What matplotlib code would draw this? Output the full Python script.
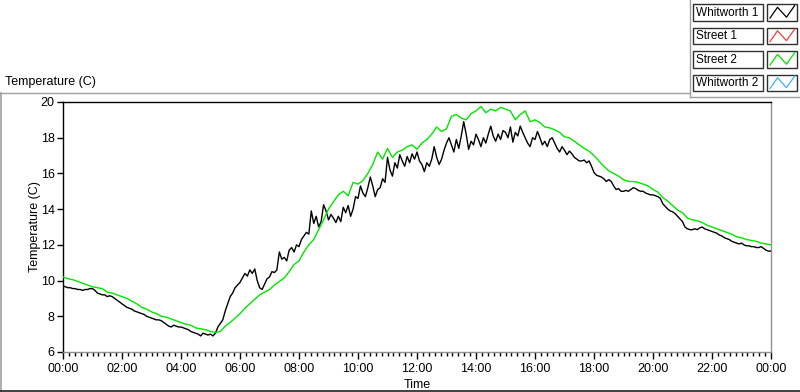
import numpy as np
import matplotlib
matplotlib.use("Agg")
import matplotlib.pyplot as plt
from matplotlib.patches import Rectangle
from matplotlib.ticker import MultipleLocator, FuncFormatter

plt.rcParams['font.family'] = ['Liberation Sans', 'DejaVu Sans']

# Whitworth 1, one reading every 5 minutes (00:00 .. 24:00)
whitworth1 = [
    9.7, 9.65, 9.6, 9.6, 9.55, 9.55, 9.5, 9.5, 9.45, 9.5, 9.5, 9.55,
    9.55, 9.45, 9.3, 9.25, 9.2, 9.2, 9.1, 9.15, 9.1, 9.0, 8.9, 8.8,
    8.7, 8.6, 8.5, 8.45, 8.4, 8.3, 8.25, 8.2, 8.15, 8.1, 8.0, 7.95,
    7.9, 7.85, 7.8, 7.8, 7.75, 7.65, 7.55, 7.45, 7.4, 7.5, 7.45, 7.4,
    7.4, 7.35, 7.3, 7.25, 7.15, 7.1, 7.05, 7.0, 6.9, 7.05, 7.0, 6.95,
    7.0, 6.9, 7.05, 7.4, 7.6, 7.8, 8.3, 8.7, 9.1, 9.3, 9.6, 9.75,
    9.9, 10.15, 10.4, 10.25, 10.6, 10.4, 10.65, 10.0, 9.6, 9.5, 9.8, 10.1,
    10.2, 10.5, 10.45, 10.6, 11.6, 11.2, 11.3, 11.1, 11.7, 11.85, 11.6, 12.0,
    11.9, 12.3, 12.5, 12.7, 12.6, 13.9, 13.2, 13.6, 13.0, 13.3, 14.25, 13.9,
    13.4, 13.7, 13.5, 13.25, 13.6, 13.3, 14.1, 13.8, 14.2, 13.6, 14.0, 14.7,
    14.6, 15.3, 14.9, 14.7, 15.2, 15.8, 15.3, 14.7, 15.1, 15.2, 15.7, 15.5,
    16.9, 16.2, 15.85, 16.6, 16.3, 17.05, 16.7, 16.4, 16.95, 16.6, 17.1, 16.8,
    17.2, 16.7, 16.5, 16.1, 16.6, 16.4, 16.8, 17.5, 16.9, 16.5, 16.8, 17.3,
    17.7, 18.0, 17.6, 17.2, 17.9, 17.4, 18.1, 18.9, 18.2, 17.35, 17.8, 17.6,
    18.2, 17.9, 17.5, 18.0, 17.7, 18.2, 18.65, 18.1, 17.8, 18.2, 17.9, 18.4,
    18.3, 18.0, 18.6, 17.75, 18.3, 18.1, 18.65, 18.3, 18.0, 17.7, 17.5, 18.0,
    17.9, 18.35, 18.0, 17.6, 17.8, 17.5, 17.9, 18.0, 17.7, 17.4, 17.2, 17.5,
    17.3, 17.05, 17.25, 17.1, 16.9, 16.8, 16.7, 16.7, 16.75, 16.6, 16.7, 16.4,
    16.05, 15.9, 15.85, 15.8, 15.7, 15.55, 15.65, 15.55, 15.3, 15.1, 15.15, 15.0,
    15.0, 15.05, 15.0, 15.1, 15.2, 15.15, 15.05, 15.0, 15.0, 14.9, 14.85, 14.8,
    14.8, 14.75, 14.7, 14.6, 14.3, 14.15, 14.0, 13.9, 13.85, 13.75, 13.6, 13.45,
    13.3, 13.0, 12.9, 12.85, 12.85, 12.9, 12.85, 12.95, 13.0, 12.9, 12.85, 12.8,
    12.75, 12.7, 12.65, 12.55, 12.5, 12.4, 12.35, 12.3, 12.2, 12.15, 12.1, 12.05,
    12.1, 12.0, 11.95, 11.95, 11.9, 11.9, 11.85, 11.85, 11.9, 11.8, 11.7, 11.65,
    11.65,
]

# Street 2, one reading every 10 minutes
street2 = [
    10.2, 10.1, 10.05, 9.95, 9.85, 9.75,
    9.65, 9.6, 9.55, 9.35, 9.3, 9.2,
    9.1, 9.0, 8.85, 8.7, 8.5, 8.4,
    8.25, 8.15, 8.0, 7.95, 7.85, 7.75,
    7.65, 7.55, 7.5, 7.35, 7.3, 7.25,
    7.15, 7.1, 7.15, 7.45, 7.65, 7.9,
    8.15, 8.45, 8.7, 8.95, 9.2, 9.35,
    9.5, 9.75, 9.95, 10.15, 10.5, 10.9,
    11.1, 11.6, 12.0, 12.3, 12.85, 13.4,
    14.0, 14.4, 14.8, 15.0, 14.75, 15.5,
    15.4, 15.6, 16.0, 16.5, 17.2, 16.8,
    17.4, 16.9, 17.2, 17.3, 17.5, 17.6,
    17.35, 17.7, 17.9, 18.2, 18.6, 18.35,
    18.5, 19.2, 19.3, 19.1, 19.0, 19.35,
    19.5, 19.75, 19.4, 19.6, 19.5, 19.7,
    19.6, 19.5, 19.0, 19.3, 19.5, 18.9,
    19.0, 18.85, 18.6, 18.55, 18.45, 18.3,
    18.05, 18.0, 17.8, 17.6, 17.4, 17.25,
    17.0, 16.7, 16.4, 16.15, 16.0, 15.85,
    15.65, 15.55, 15.55, 15.5, 15.4, 15.3,
    15.1, 14.95, 14.65, 14.45, 14.2, 13.95,
    13.8, 13.5, 13.4, 13.35, 13.25, 13.1,
    13.0, 12.9, 12.8, 12.7, 12.6, 12.45,
    12.4, 12.3, 12.25, 12.2, 12.1, 12.05,
    12.0,
]

legend_names = ['Whitworth 1', 'Street 1', 'Street 2', 'Whitworth 2']
legend_colors = ['#000000', '#ff3c3c', '#00e600', '#3cb4ff']

hours_w1 = np.arange(len(whitworth1)) / 12.0
hours_s2 = np.arange(len(street2)) / 6.0

fig = plt.figure(figsize=(8, 3.92), dpi=100)

# background frame layer in pixel units
bg = fig.add_axes([0, 0, 1, 1])
bg.set_xlim(0, 800)
bg.set_ylim(392, 0)
bg.axis('off')
bg.plot([0, 690], [93, 93], color='#a0a0a0', lw=1)
bg.plot([690, 690], [0, 97], color='#a0a0a0', lw=1)
bg.plot([690, 800], [97, 97], color='#a0a0a0', lw=1)
bg.plot([1, 1], [93, 392], color='#a0a0a0', lw=1.2)
bg.plot([0, 800], [391, 391], color='#202020', lw=1.2)
bg.text(5, 82, 'Temperature (C)', fontsize=9, va='center', ha='left')

# legend
for i, (name, col) in enumerate(zip(legend_names, legend_colors)):
    y0 = 4 + i * 23.5
    bg.add_patch(Rectangle((693, y0), 70, 16.5, facecolor='white', edgecolor='#303030', lw=1))
    bg.text(695.5, y0 + 8.5, name, fontsize=8.5, va='center', ha='left')
    bg.add_patch(Rectangle((767, y0), 30, 16.5, facecolor='white', edgecolor='#303030', lw=1))
    zx = np.array([0.1, 0.35, 0.65, 0.92]) * 30 + 767
    zy = y0 + 16.5 - np.array([0.15, 0.8, 0.2, 0.9]) * 16.5
    bg.plot(zx, zy, color=col, lw=0.9)

ax = fig.add_axes([63 / 800, 1 - 352 / 392, 708 / 800, 250 / 392])
ax.plot(hours_w1, whitworth1, color=legend_colors[0], lw=1.0, zorder=3)
ax.plot(hours_s2, street2, color=legend_colors[2], lw=1.0, zorder=4)

ax.set_xlim(0, 24)
ax.set_ylim(6, 20)
ax.xaxis.set_major_locator(MultipleLocator(2))
ax.xaxis.set_minor_locator(MultipleLocator(0.2))
ax.yaxis.set_major_locator(MultipleLocator(2))
ax.xaxis.set_major_formatter(FuncFormatter(lambda v, p: '%02d:00' % (int(round(v)) % 24)))
ax.tick_params(axis='x', which='major', length=5, width=1, labelsize=9, pad=3)
ax.tick_params(axis='x', which='minor', length=3, width=1)
ax.tick_params(axis='y', which='major', length=4, width=1, labelsize=9, pad=2)

ax.spines['left'].set_color('black')
ax.spines['top'].set_color('black')
ax.spines['right'].set_color('#909090')
ax.spines['bottom'].set_color('#909090')
for s in ax.spines.values():
    s.set_linewidth(1)

ax.set_xlabel('Time', fontsize=9, labelpad=3)
ax.set_ylabel('Temperature (C)', fontsize=9, labelpad=0)

fig.savefig('out.png', dpi=100)
